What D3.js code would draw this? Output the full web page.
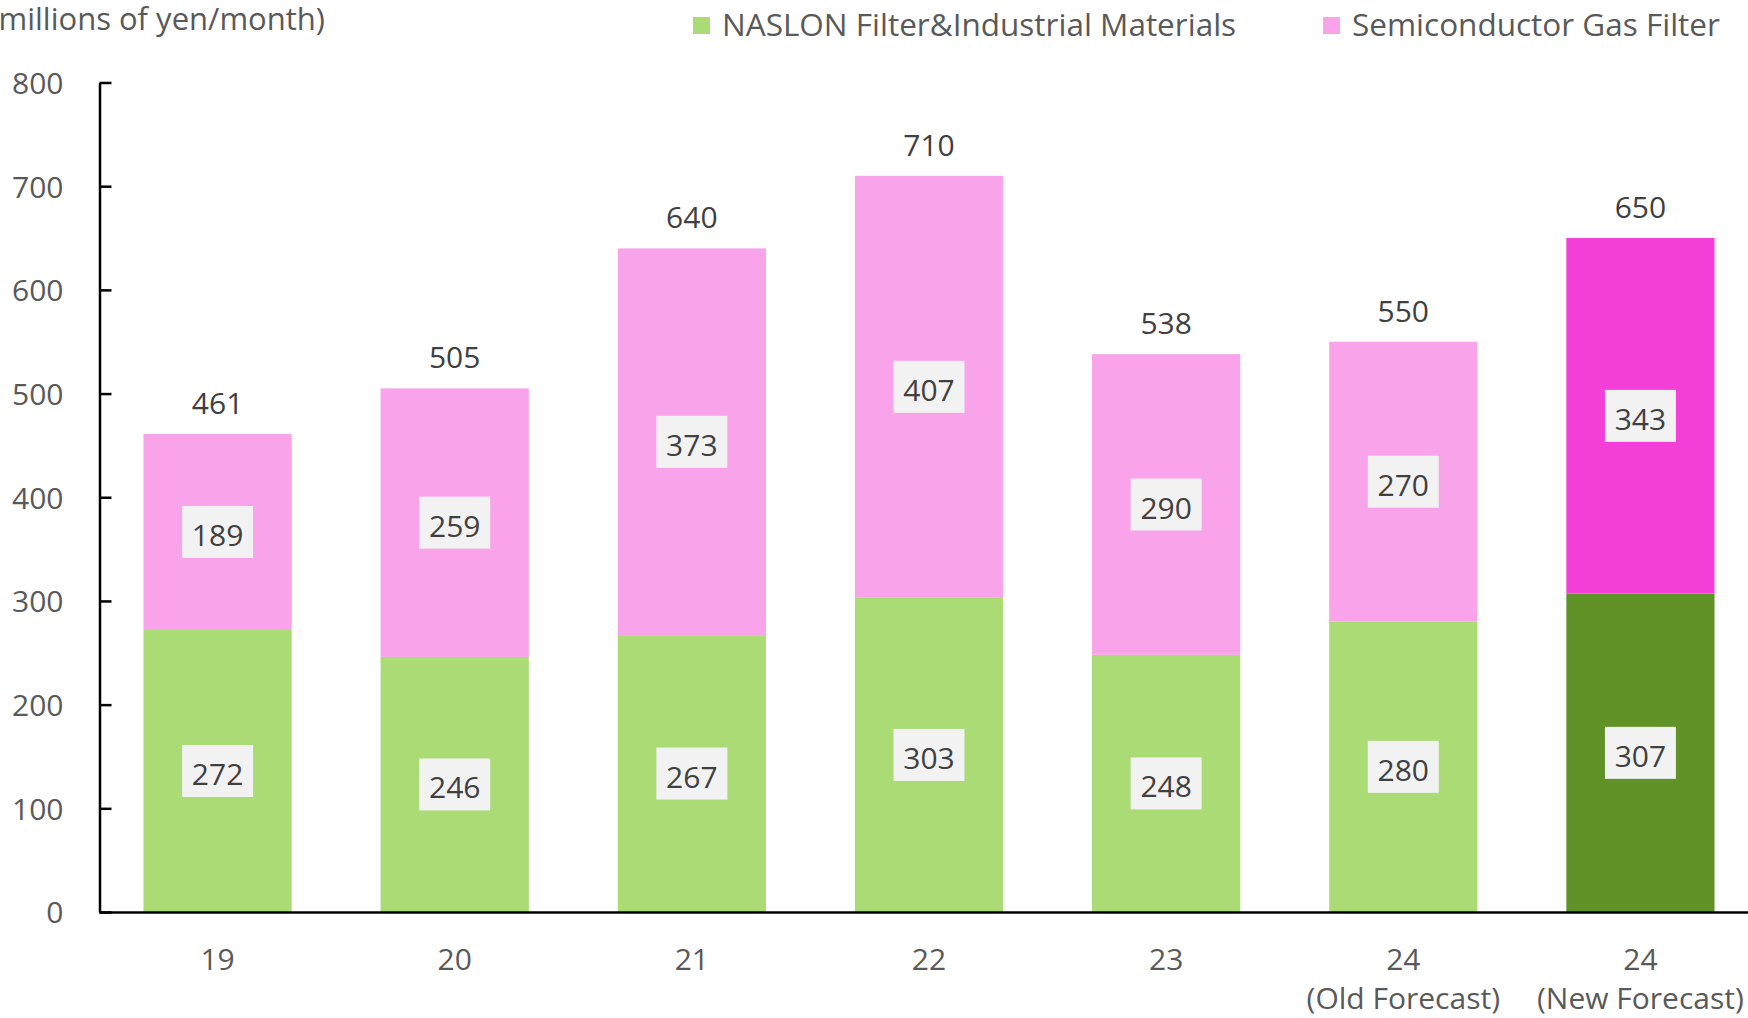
<!DOCTYPE html>
<html>
<head>
<meta charset="utf-8">
<script src="https://cdn.jsdelivr.net/npm/d3@7"></script>
<style>
  html, body { margin: 0; padding: 0; background: #ffffff; }
  svg { display: block; }
  text { font-family: "Open Sans", "Noto Sans", sans-serif; }
</style>
</head>
<body>
<svg id="chart" width="1748" height="1018"></svg>
<script>
// ---- data ----
const categories = ["19", "20", "21", "22", "23", "24|(Old Forecast)", "24|(New Forecast)"];
const naslon = [272, 246, 267, 303, 248, 280, 307];
const semiconductor = [189, 259, 373, 407, 290, 270, 343];
const totals = [461, 505, 640, 710, 538, 550, 650];
const yTicks = [0, 100, 200, 300, 400, 500, 600, 700, 800];
const seriesNames = ["NASLON Filter&Industrial Materials", "Semiconductor Gas Filter"];
const axisTitle = "(millions of yen/month)";

// ---- styles ----
const colNaslon = "#aadb75", colSemi = "#f8a3ea";
const colNaslonNew = "#619228", colSemiNew = "#f33fd8";
const fontSize = 30;

const svg = d3.select("#chart");
const x = d3.scaleBand().domain(categories).range([99, 1759]).paddingInner(0.375).paddingOuter(0.1875);
const y = d3.scaleLinear().domain([0, 800]).range([912, 82.5]);

const stackData = categories.map((c, i) => ({cat: c, naslon: naslon[i], semi: semiconductor[i], idx: i}));
const stack = d3.stack().keys(["naslon", "semi"])(stackData);

function fill(key, i) {
  const isNew = i === categories.length - 1;
  if (key === "naslon") return isNew ? colNaslonNew : colNaslon;
  return isNew ? colSemiNew : colSemi;
}

// bars
stack.forEach(layer => {
  svg.append("g").selectAll("rect").data(layer).join("rect")
    .attr("x", d => x(d.data.cat))
    .attr("width", x.bandwidth())
    .attr("y", d => y(d[1]))
    .attr("height", d => y(d[0]) - y(d[1]))
    .attr("fill", (d) => fill(layer.key, d.data.idx));
});

// segment labels with boxes
stack.forEach(layer => {
  const g = svg.append("g").selectAll("g").data(layer).join("g")
    .attr("transform", d => `translate(${x(d.data.cat) + x.bandwidth() / 2},${(y(d[0]) + y(d[1])) / 2})`);
  g.append("rect").attr("x", -35.5).attr("y", -26).attr("width", 71).attr("height", 52).attr("fill", "#f2f2f2");
  g.append("text").attr("text-anchor", "middle").attr("y", 14)
    .attr("font-size", fontSize).attr("fill", "#404040")
    .text(d => d[1] - d[0]);
});

// totals
svg.append("g").selectAll("text").data(stackData).join("text")
  .attr("x", d => x(d.cat) + x.bandwidth() / 2)
  .attr("y", (d, i) => y(totals[i]) - 20)
  .attr("text-anchor", "middle").attr("font-size", fontSize).attr("fill", "#404040")
  .text((d, i) => totals[i]);

// y axis
const yAxis = d3.axisLeft(y).tickValues(yTicks).tickSize(-12).tickPadding(36).tickSizeOuter(0);
const gy = svg.append("g").attr("transform", "translate(99.5,0)").call(yAxis);
gy.select(".domain").attr("stroke", "#000").attr("stroke-width", 2.5);
gy.selectAll(".tick line").attr("stroke", "#000").attr("stroke-width", 2.5);
gy.selectAll(".tick text").attr("font-size", fontSize).attr("fill", "#595959")
  .attr("font-family", "'Open Sans', 'Noto Sans', sans-serif").attr("dy", "0.36em");

// x axis
const xAxis = d3.axisBottom(x).tickSize(0).tickSizeOuter(0).tickFormat(() => "");
const gx = svg.append("g").attr("transform", "translate(0,912)").call(xAxis);
gx.select(".domain").attr("stroke", "#000").attr("stroke-width", 2.5);
gx.selectAll(".tick").each(function(d) {
  const parts = d.split("|");
  const t = d3.select(this).append("text").attr("text-anchor", "middle")
    .attr("font-size", fontSize).attr("fill", "#595959")
    .attr("font-family", "'Open Sans', 'Noto Sans', sans-serif");
  parts.forEach((p, k) => t.append("tspan").attr("x", 0).attr("y", 58 + k * 39).text(p));
});

// axis title
svg.append("text").attr("x", 325).attr("y", 30).attr("text-anchor", "end")
  .attr("font-size", 31).attr("fill", "#595959").text(axisTitle);

// legend
const legendX = [693, 1323];
const lg = svg.append("g").selectAll("g").data(seriesNames).join("g")
  .attr("transform", (d, i) => `translate(${legendX[i]},0)`);
lg.append("rect").attr("x", 0).attr("y", 17).attr("width", 17).attr("height", 17)
  .attr("fill", (d, i) => i === 0 ? colNaslon : colSemi);
lg.append("text").attr("x", 29).attr("y", 36).attr("font-size", 31.5).attr("fill", "#595959").text(d => d);
</script>
</body>
</html>
